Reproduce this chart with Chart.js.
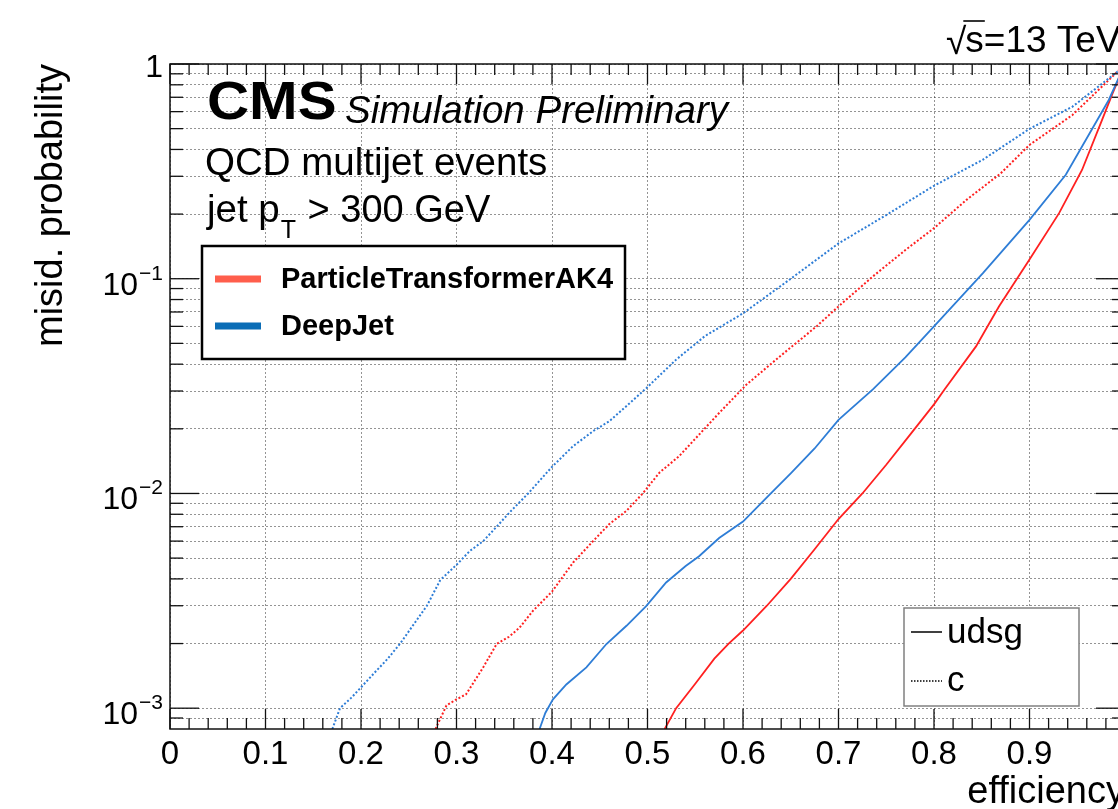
<!DOCTYPE html>
<html>
<head>
<meta charset="utf-8">
<title>b-tagging ROC</title>
<script src="https://cdn.jsdelivr.net/npm/chart.js@4.4.1/dist/chart.umd.min.js"></script>
<style>
  html, body { margin: 0; padding: 0; background: #fff; overflow: hidden; }
  #wrap { width: 1140px; height: 809px; }
</style>
</head>
<body>
<div id="wrap"><canvas id="rocChart" width="1140" height="809"></canvas></div>
<script>
// b-jet efficiency vs. misidentification probability (c and udsg jets)
const deepjetCEff = [0.170, 0.178, 0.190, 0.200, 0.214, 0.228, 0.241, 0.255, 0.269, 0.283, 0.300, 0.314, 0.328, 0.342, 0.356, 0.375, 0.400, 0.422, 0.443, 0.460, 0.480, 0.499, 0.530, 0.560, 0.600, 0.650, 0.700, 0.750, 0.800, 0.851, 0.900, 0.945, 0.992, 1.0];
const deepjetCMis = [0.0008, 0.00100, 0.00112, 0.00125, 0.00146, 0.00170, 0.00200, 0.00245, 0.00300, 0.00395, 0.00465, 0.00540, 0.00600, 0.00700, 0.00820, 0.0100, 0.0133, 0.0166, 0.0195, 0.0217, 0.0260, 0.0310, 0.0420, 0.0540, 0.0690, 0.100, 0.146, 0.198, 0.271, 0.358, 0.499, 0.633, 0.92, 1.0];

const partCEff = [0.278, 0.2895, 0.300, 0.310, 0.328, 0.342, 0.355, 0.366, 0.380, 0.400, 0.422, 0.443, 0.460, 0.478, 0.495, 0.5125, 0.533, 0.555, 0.575, 0.6035, 0.640, 0.677, 0.700, 0.736, 0.770, 0.800, 0.834, 0.870, 0.900, 0.945, 0.992, 1.0];
const partCMis = [0.0008, 0.00103, 0.00110, 0.00116, 0.00155, 0.00199, 0.00215, 0.00237, 0.00284, 0.00349, 0.00476, 0.00600, 0.00720, 0.00830, 0.0100, 0.0125, 0.0149, 0.0190, 0.0237, 0.0321, 0.0440, 0.0600, 0.0743, 0.1025, 0.136, 0.172, 0.233, 0.310, 0.420, 0.579, 0.92, 1.0];

const deepjetLightEff = [0.387, 0.393, 0.401, 0.415, 0.436, 0.457, 0.478, 0.4986, 0.5195, 0.540, 0.554, 0.575, 0.600, 0.625, 0.650, 0.675, 0.700, 0.736, 0.770, 0.800, 0.851, 0.900, 0.938, 0.966, 0.983, 1.0];
const deepjetLightMis = [0.0008, 0.00095, 0.00110, 0.00129, 0.00155, 0.00199, 0.00242, 0.00299, 0.00385, 0.00459, 0.00510, 0.00620, 0.00740, 0.00960, 0.0124, 0.0162, 0.0220, 0.0305, 0.0430, 0.0600, 0.106, 0.188, 0.305, 0.502, 0.680, 1.0];

const partLightEff = [0.518, 0.530, 0.550, 0.570, 0.585, 0.600, 0.625, 0.650, 0.675, 0.700, 0.725, 0.750, 0.775, 0.800, 0.811, 0.844, 0.868, 0.900, 0.931, 0.955, 0.976, 0.987, 1.0];
const partLightMis = [0.0008, 0.00100, 0.00130, 0.00170, 0.00200, 0.00230, 0.00300, 0.00400, 0.00550, 0.00760, 0.0100, 0.0136, 0.0188, 0.0260, 0.0305, 0.0484, 0.0743, 0.123, 0.202, 0.321, 0.549, 0.730, 1.0];

const xTickValues = [0, 0.1, 0.2, 0.3, 0.4, 0.5, 0.6, 0.7, 0.8, 0.9, 1];
const xTickLabels = ['0', '0.1', '0.2', '0.3', '0.4', '0.5', '0.6', '0.7', '0.8', '0.9', ''];
const yTickValues = [0.0009,
    0.001, 0.002, 0.003, 0.004, 0.005, 0.006, 0.007, 0.008, 0.009,
    0.01, 0.02, 0.03, 0.04, 0.05, 0.06, 0.07, 0.08, 0.09,
    0.1, 0.2, 0.3, 0.4, 0.5, 0.6, 0.7, 0.8, 0.9, 1];
const yLabelValues = [0.001, 0.01, 0.1, 1];
const yLabelExps = ['\u22123', '\u22122', '\u22121', ''];

const RED = '#ff2020';
const BLUE = '#2e7dd6';
const FONT = "'Liberation Sans', Arial, Helvetica, sans-serif";

function toPoints(xs, ys) {
    return xs.map(function (x, i) { return { x: x, y: ys[i] }; });
}

function line(ctx, x1, y1, x2, y2) {
    ctx.beginPath();
    ctx.moveTo(x1, y1);
    ctx.lineTo(x2, y2);
    ctx.stroke();
}

// ROOT-like frame, inward ticks, labels and the two legend boxes
const rootStyle = {
    id: 'rootStyle',
    afterDatasetsDraw(chart) {
        const ctx = chart.ctx;
        const a = chart.chartArea;
        const xs = chart.scales.x;
        const ys = chart.scales.y;
        ctx.save();

        // frame
        ctx.strokeStyle = '#111';
        ctx.lineWidth = 1.5;
        ctx.strokeRect(a.left, a.top, a.right - a.left, a.bottom - a.top);

        // x ticks (top and bottom)
        ctx.lineWidth = 1.3;
        for (let i = 0; i <= 50; i++) {
            const px = xs.getPixelForValue(i / 50);
            const len = i % 5 === 0 ? 20 : 11;
            line(ctx, px, a.bottom, px, a.bottom - len);
            line(ctx, px, a.top, px, a.top + len);
        }

        // y ticks (left and right)
        yTickValues.forEach(function (v) {
            const py = ys.getPixelForValue(v);
            const lg = Math.log10(v);
            const major = Math.abs(lg - Math.round(lg)) < 1e-6;
            const len = major ? 29 : 13;
            line(ctx, a.left, py, a.left + len, py);
            line(ctx, a.right, py, a.right - len, py);
        });

        // y labels with superscript exponents
        ctx.fillStyle = '#000';
        ctx.textBaseline = 'alphabetic';
        yLabelValues.forEach(function (v, i) {
            const py = ys.getPixelForValue(v);
            const right = a.left - 7;
            if (yLabelExps[i] === '') {
                ctx.font = '32px ' + FONT;
                ctx.textAlign = 'right';
                ctx.fillText('1', right, py + 13);
                return;
            }
            ctx.font = '21px ' + FONT;
            ctx.textAlign = 'right';
            ctx.fillText(yLabelExps[i], right, py + 1);
            const w = ctx.measureText(yLabelExps[i]).width;
            ctx.font = '32px ' + FONT;
            ctx.fillText('10', right - w - 1, py + 16);
        });

        // axis titles
        ctx.font = '38px ' + FONT;
        ctx.textAlign = 'right';
        ctx.fillText('efficiency', a.right, 803);
        ctx.save();
        ctx.translate(62, a.top);
        ctx.rotate(-Math.PI / 2);
        ctx.textAlign = 'right';
        ctx.fillText('misid. probability', 0, 0);
        ctx.restore();

        // sqrt(s) label with the bar over s
        ctx.textAlign = 'left';
        ctx.font = '37px ' + FONT;
        ctx.fillText('\u221A', 946, 54);
        const rootW = ctx.measureText('\u221A').width;
        ctx.fillText('s=13 TeV', 946 + rootW - 1, 52);
        const sW = ctx.measureText('s').width;
        ctx.strokeStyle = '#000';
        ctx.lineWidth = 1.6;
        line(ctx, 946 + rootW - 3, 21, 946 + rootW + sW, 21);

        // CMS header, Helvetica bold is a bit wider than the fallback
        ctx.save();
        ctx.translate(207, 119);
        ctx.scale(1.08, 1);
        ctx.font = 'bold 54px ' + FONT;
        ctx.fillText('CMS', 0, 0);
        ctx.restore();
        ctx.font = 'italic 38.5px ' + FONT;
        ctx.fillText('Simulation Preliminary', 345, 123);

        ctx.font = '38.5px ' + FONT;
        ctx.fillText('QCD multijet events', 205, 175);
        ctx.fillText('jet p', 207, 222);
        let px = 207 + ctx.measureText('jet p').width;
        ctx.font = '25px ' + FONT;
        ctx.fillText('T', px + 1, 238);
        px += ctx.measureText('T').width + 2;
        ctx.font = '38px ' + FONT;
        ctx.fillText(' > 300 GeV', px, 222);

        // tagger legend
        ctx.fillStyle = '#fff';
        ctx.fillRect(202, 246, 423, 113);
        ctx.strokeStyle = '#000';
        ctx.lineWidth = 2.5;
        ctx.strokeRect(202, 246, 423, 113);
        ctx.lineWidth = 7;
        ctx.strokeStyle = '#ff5e4c';
        line(ctx, 215, 279, 261, 279);
        ctx.strokeStyle = '#0b6db6';
        line(ctx, 215, 326, 261, 326);
        ctx.fillStyle = '#000';
        ctx.font = 'bold 29px ' + FONT;
        ctx.fillText('ParticleTransformerAK4', 281, 288);
        ctx.fillText('DeepJet', 281, 335);

        // flavour legend
        ctx.fillStyle = '#fff';
        ctx.fillRect(904, 608, 175, 98);
        ctx.strokeStyle = '#808080';
        ctx.lineWidth = 1.5;
        ctx.strokeRect(904, 608, 175, 98);
        ctx.strokeStyle = '#000';
        ctx.lineWidth = 1.5;
        line(ctx, 911, 632, 942, 632);
        ctx.setLineDash([1.5, 1.5]);
        line(ctx, 911, 681, 942, 681);
        ctx.setLineDash([]);
        ctx.fillStyle = '#000';
        ctx.font = '35px ' + FONT;
        ctx.fillText('udsg', 947, 643);
        ctx.fillText('c', 947, 691);

        ctx.restore();
    }
};

function curve(label, xs, ys, color, dotted) {
    return {
        label: label,
        data: toPoints(xs, ys),
        borderColor: color,
        backgroundColor: color,
        borderWidth: dotted ? 2 : 1.8,
        borderDash: dotted ? [2, 2] : [],
        pointRadius: 0,
        tension: 0,
        fill: false
    };
}

const gridStyle = { color: 'rgba(0,0,0,0.42)', lineWidth: 1, drawTicks: false };

new Chart(document.getElementById('rocChart'), {
    type: 'line',
    data: {
        datasets: [
            curve('DeepJet c', deepjetCEff, deepjetCMis, BLUE, true),
            curve('ParticleTransformerAK4 c', partCEff, partCMis, RED, true),
            curve('DeepJet udsg', deepjetLightEff, deepjetLightMis, BLUE, false),
            curve('ParticleTransformerAK4 udsg', partLightEff, partLightMis, RED, false)
        ]
    },
    options: {
        responsive: false,
        animation: false,
        events: [],
        layout: { padding: { top: 64, right: 15, left: 0, bottom: 0 } },
        plugins: { legend: { display: false }, tooltip: { enabled: false } },
        scales: {
            x: {
                type: 'linear',
                min: 0,
                max: 1,
                afterBuildTicks: function (s) { s.ticks = xTickValues.map(function (v) { return { value: v }; }); },
                afterFit: function (s) { s.height = 80; },
                grid: gridStyle,
                border: { display: false, dash: [2, 2] },
                ticks: {
                    autoSkip: false,
                    maxRotation: 0,
                    padding: 6,
                    color: '#000',
                    font: { family: FONT, size: 33 },
                    callback: function (v, i) { return xTickLabels[i]; }
                }
            },
            y: {
                type: 'logarithmic',
                min: 0.0008,
                max: 1,
                afterBuildTicks: function (s) { s.ticks = yTickValues.map(function (v) { return { value: v }; }); },
                afterFit: function (s) { s.width = 170; },
                grid: gridStyle,
                border: { display: false, dash: [2, 2] },
                ticks: { display: false }
            }
        }
    },
    plugins: [rootStyle]
});
</script>
</body>
</html>
